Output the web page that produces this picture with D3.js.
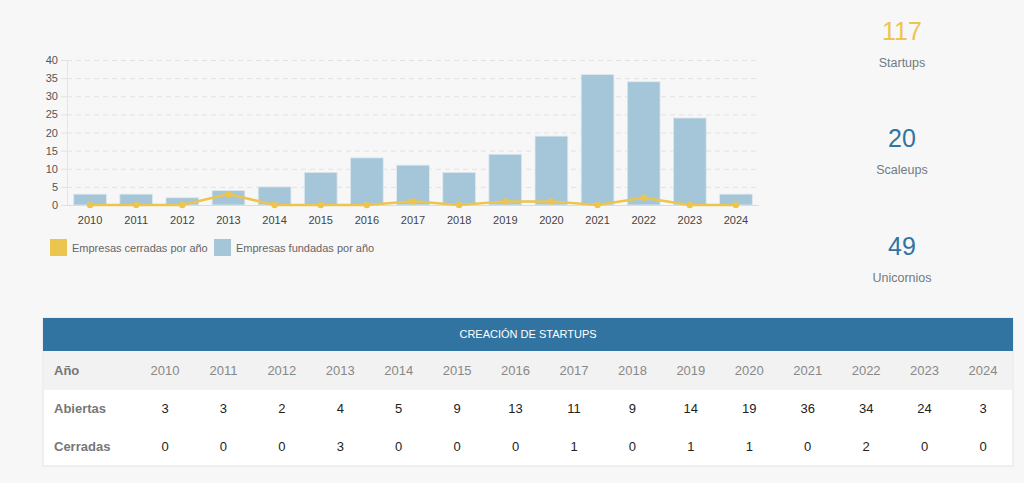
<!DOCTYPE html>
<html>
<head>
<meta charset="utf-8">
<script src="https://cdn.jsdelivr.net/npm/d3@7"></script>
<style>
  html, body { margin: 0; padding: 0; background: #f7f7f7; }
  svg { display: block; font-family: "Liberation Sans", Arial, Helvetica, sans-serif; }
</style>
</head>
<body>
<svg id="chart"></svg>
<script>
const years = ['2010','2011','2012','2013','2014','2015','2016','2017','2018','2019','2020','2021','2022','2023','2024'];
const abiertas = [3, 3, 2, 4, 5, 9, 13, 11, 9, 14, 19, 36, 34, 24, 3];
const cerradas = [0, 0, 0, 3, 0, 0, 0, 1, 0, 1, 1, 0, 2, 0, 0];
const yTicks = [0, 5, 10, 15, 20, 25, 30, 35, 40];
const legendLabels = ['Empresas cerradas por año', 'Empresas fundadas por año'];
const statValues = ['117', '20', '49'];
const statLabels = ['Startups', 'Scaleups', 'Unicornios'];
const tableTitle = 'CREACIÓN DE STARTUPS';
const rowLabels = ['Año', 'Abiertas', 'Cerradas'];

const W = 1024, H = 483;
const yellow = '#ecc54e', blue = '#a5c6d9', darkBlue = '#3274a1';

const svg = d3.select('#chart').attr('width', W).attr('height', H);

// chart
const plot = { left: 67, right: 759, top: 60, bottom: 205 };
const x = d3.scaleBand().domain(years).range([plot.left, plot.right]).paddingInner(0.29).paddingOuter(0.145);
const y = d3.scaleLinear().domain([0, 40]).range([plot.bottom, plot.top]);

const g = svg.append('g');

g.selectAll('.grid')
  .data(yTicks.filter(d => d > 0))
  .enter()
  .append('line')
  .attr('x1', plot.left)
  .attr('x2', plot.right)
  .attr('y1', d => y(d) + 0.5)
  .attr('y2', d => y(d) + 0.5)
  .attr('stroke', '#e2e2e2')
  .attr('stroke-dasharray', '5,4');

g.append('line')
  .attr('x1', plot.left + 0.5).attr('x2', plot.left + 0.5)
  .attr('y1', plot.top).attr('y2', plot.bottom)
  .attr('stroke', '#e4e4e4');

const yAxis = d3.axisLeft(y).tickValues(yTicks).tickSize(6).tickPadding(3);
const yg = g.append('g').attr('transform', `translate(${plot.left},0)`).call(yAxis);
yg.select('.domain').remove();
yg.selectAll('line').attr('stroke', '#e2e2e2');
yg.selectAll('text').attr('fill', '#555').attr('font-size', 11).attr('font-family', 'Liberation Sans, Arial, sans-serif');

g.selectAll('.bar')
  .data(abiertas)
  .enter()
  .append('rect')
  .attr('x', (d, i) => x(years[i]))
  .attr('y', d => y(d))
  .attr('width', x.bandwidth())
  .attr('height', d => y(0) - y(d))
  .attr('fill', blue)
  .attr('stroke', '#dfe9ef')
  .attr('stroke-width', 0.8);

g.append('line')
  .attr('x1', plot.left).attr('x2', plot.right)
  .attr('y1', plot.bottom + 0.5).attr('y2', plot.bottom + 0.5)
  .attr('stroke', '#dcdcdc');

const xAxis = d3.axisBottom(x).tickSize(0).tickPadding(11);
const xg = g.append('g').attr('transform', `translate(0,${plot.bottom})`).call(xAxis);
xg.select('.domain').remove();
xg.selectAll('text').attr('fill', '#444').attr('font-size', 11).attr('font-family', 'Liberation Sans, Arial, sans-serif');

const line = d3.line()
  .x((d, i) => x(years[i]) + x.bandwidth() / 2)
  .y(d => y(d));

g.append('path')
  .datum(cerradas)
  .attr('d', line)
  .attr('fill', 'none')
  .attr('stroke', yellow)
  .attr('stroke-width', 2.5);

g.selectAll('.pt')
  .data(cerradas)
  .enter()
  .append('circle')
  .attr('cx', (d, i) => x(years[i]) + x.bandwidth() / 2)
  .attr('cy', d => y(d))
  .attr('r', 3.2)
  .attr('fill', yellow);

// legend
const legendX = [50, 214];
const legendColors = [yellow, blue];
const lg = svg.append('g');
legendLabels.forEach((label, i) => {
  lg.append('rect')
    .attr('x', legendX[i]).attr('y', 239)
    .attr('width', 17).attr('height', 17)
    .attr('fill', legendColors[i]);
  lg.append('text')
    .attr('x', legendX[i] + 22).attr('y', 251.5)
    .attr('font-size', 11)
    .attr('fill', '#666')
    .text(label);
});

// stats on the right
const statY = [40, 147, 255];
const statColors = [yellow, darkBlue, darkBlue];
statValues.forEach((v, i) => {
  svg.append('text')
    .attr('x', 902).attr('y', statY[i])
    .attr('text-anchor', 'middle')
    .attr('font-size', 25)
    .attr('fill', statColors[i])
    .text(v);
  svg.append('text')
    .attr('x', 902).attr('y', statY[i] + 27)
    .attr('text-anchor', 'middle')
    .attr('font-size', 12.5)
    .attr('fill', '#6f7b85')
    .text(statLabels[i]);
});

// table
const tb = { left: 43, right: 1013, top: 318 };
const colX = d3.scalePoint().domain(years).range([165, 983]);
const t = svg.append('g');

t.append('rect')
  .attr('x', tb.left).attr('y', tb.top)
  .attr('width', tb.right - tb.left).attr('height', 148)
  .attr('fill', '#fff')
  .attr('stroke', '#e3e3e3');
t.append('rect')
  .attr('x', tb.left).attr('y', tb.top)
  .attr('width', tb.right - tb.left).attr('height', 33)
  .attr('fill', darkBlue);
t.append('text')
  .attr('x', (tb.left + tb.right) / 2).attr('y', tb.top + 20)
  .attr('text-anchor', 'middle')
  .attr('font-size', 11)
  .attr('fill', '#fff')
  .text(tableTitle);
t.append('rect')
  .attr('x', tb.left + 0.5).attr('y', tb.top + 33)
  .attr('width', tb.right - tb.left - 1).attr('height', 39)
  .attr('fill', '#f2f2f2');

const rowY = [375, 413, 451];
rowLabels.forEach((label, r) => {
  t.append('text')
    .attr('x', 54).attr('y', rowY[r])
    .attr('font-size', 13)
    .attr('font-weight', 'bold')
    .attr('fill', '#777')
    .text(label);
});

t.selectAll('.yr')
  .data(years)
  .enter()
  .append('text')
  .attr('x', d => colX(d)).attr('y', rowY[0])
  .attr('text-anchor', 'middle')
  .attr('font-size', 13)
  .attr('fill', '#888')
  .text(d => d);

[abiertas, cerradas].forEach((vals, r) => {
  t.selectAll('.v' + r)
    .data(vals)
    .enter()
    .append('text')
    .attr('x', (d, i) => colX(years[i])).attr('y', rowY[r + 1])
    .attr('text-anchor', 'middle')
    .attr('font-size', 13)
    .attr('fill', '#222')
    .text(d => d);
});
</script>
</body>
</html>
